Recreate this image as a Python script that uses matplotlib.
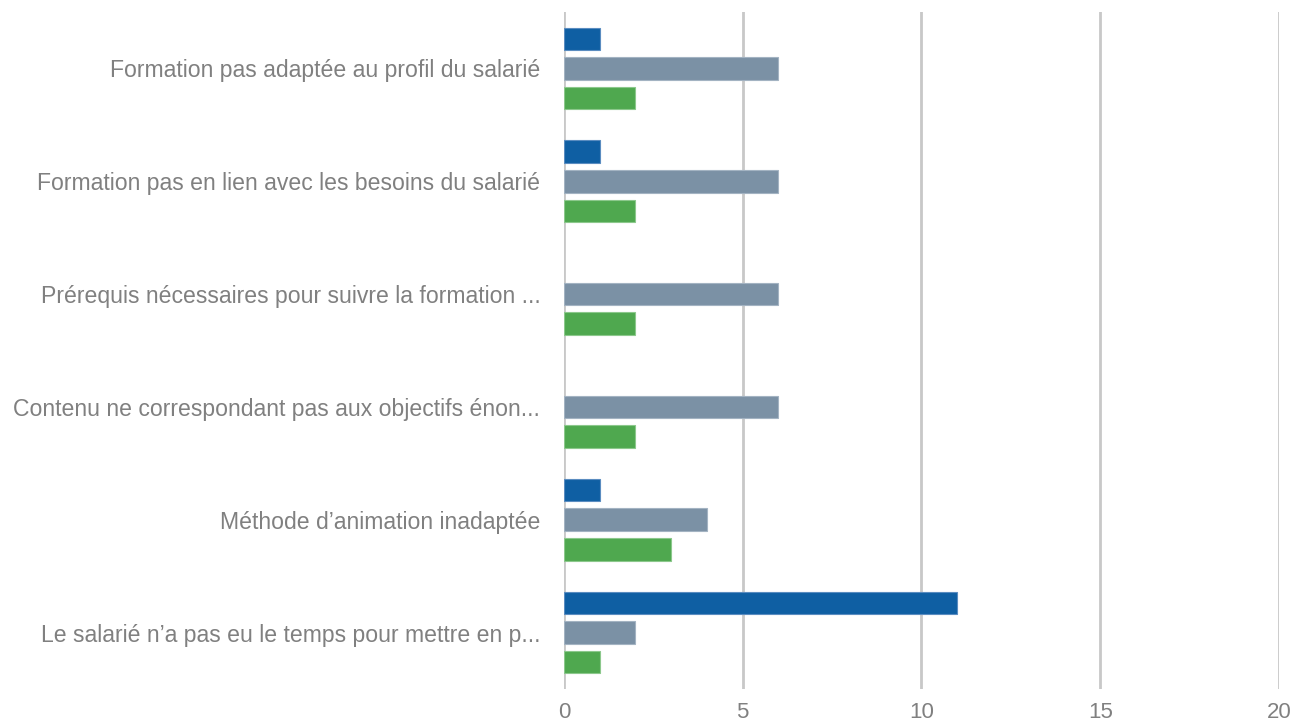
import matplotlib
matplotlib.use("Agg")
import matplotlib.pyplot as plt
import numpy as np
from matplotlib import font_manager

categories = [
    "Formation pas adaptée au profil du salarié",
    "Formation pas en lien avec les besoins du salarié",
    "Prérequis nécessaires pour suivre la formation ...",
    "Contenu ne correspondant pas aux objectifs énon...",
    "Méthode d’animation inadaptée",
    "Le salarié n’a pas eu le temps pour mettre en p...",
]
series_blue = [1, 1, 0, 0, 1, 11]
series_gray = [6, 6, 6, 6, 4, 2]
series_green = [2, 2, 2, 2, 3, 1]
x_ticks = [0, 5, 10, 15, 20]

names = {f.name for f in font_manager.fontManager.ttflist}
fam = "Liberation Sans Narrow" if "Liberation Sans Narrow" in names else "Liberation Sans"

fig = plt.figure(figsize=(12.95, 7.24), dpi=100)
ax = fig.add_axes([0.4355, 0.0483, 0.9876 - 0.4355, 0.9834 - 0.0483])

y = np.arange(len(categories))
h = 0.2
off = 0.262
colors = ["#0F5FA3", "#7B91A5", "#4FA84F"]
edges = ["#5A8CC0", "#A3B3C2", "#8CC88C"]
for i, (vals, c, e) in enumerate(zip([series_blue, series_gray, series_green], colors, edges)):
    ecs = [e if v > 0 else "none" for v in vals]
    ax.barh(y + (i - 1) * off, vals, height=h, color=c, edgecolor=ecs, linewidth=0.8, zorder=3)

ax.set_xlim(0, 20)
ax.set_ylim(5.5, -0.5)
ax.set_xticks(x_ticks)
ax.set_yticks(y)
ax.set_yticklabels(categories)
ax.grid(axis="x", color="#C8C8C8", linewidth=2, zorder=0)
for s in ax.spines.values():
    s.set_visible(False)
ax.tick_params(axis="both", length=0, colors="#808080")
ax.tick_params(axis="y", pad=17)
ax.tick_params(axis="x", pad=9)
for lab in ax.get_yticklabels():
    lab.set_fontfamily(fam)
    lab.set_fontsize(16.6)
    lab.set_color("#808080")
for lab in ax.get_xticklabels():
    lab.set_fontfamily(fam)
    lab.set_fontsize(16)
    lab.set_color("#808080")

fig.savefig("out.png", dpi=100)
